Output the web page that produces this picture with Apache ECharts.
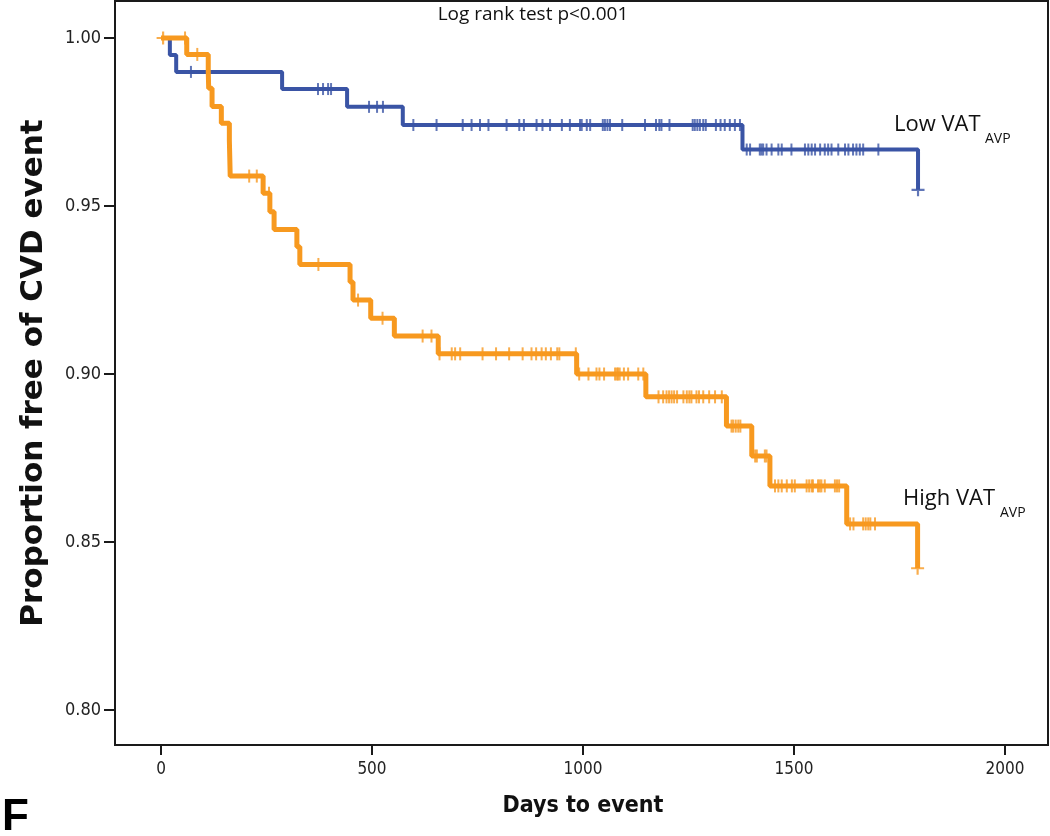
<!DOCTYPE html>
<html>
<head>
<meta charset="utf-8">
<script src="https://cdn.jsdelivr.net/npm/echarts@6/dist/echarts.min.js"></script>
<style>
  html, body { margin: 0; padding: 0; background: #ffffff; }
  #chart { width: 1050px; height: 836px; }
</style>
</head>
<body>
<div id="chart"></div>
<script>
// ---- Data ----
const xTickValues = [0, 500, 1000, 1500, 2000];
const yTickValues = [0.80, 0.85, 0.90, 0.95, 1.00];

// Low VAT_AVP: step changes (day, survival)
const lowDays = [0, 21, 36, 287, 441, 573, 1378, 1794];
const lowSurv = [1.0, 0.9949, 0.9899, 0.9848, 0.9795, 0.9741, 0.9668, 0.9548];
// Low VAT_AVP censored observations (days)
const lowCensorDays = [71, 372, 384, 396, 403, 493, 512, 526,
  598, 653, 715, 736, 756, 776, 819, 849, 860, 890, 904, 922, 950, 969, 993, 997,
  1009, 1017, 1047, 1052, 1058, 1064, 1093, 1147, 1173, 1181, 1186, 1205, 1260,
  1265, 1271, 1277, 1285, 1291, 1315, 1326, 1336, 1348, 1360, 1372,
  1388, 1396, 1419, 1423, 1427, 1435, 1447, 1463, 1471, 1494, 1526, 1534, 1542,
  1550, 1562, 1573, 1581, 1589, 1605, 1621, 1629, 1640, 1648, 1656, 1664, 1700];

// High VAT_AVP: step changes (day, survival)
const highDays = [0, 61, 112, 113, 121, 143, 162, 163, 164, 242, 258, 268, 322, 329,
  448, 455, 497, 553, 657, 985, 1149, 1340, 1400, 1443, 1625, 1793];
const highSurv = [1.0, 0.9951, 0.9900, 0.9850, 0.9796, 0.9746, 0.9695, 0.9643, 0.9589,
  0.9538, 0.9483, 0.9430, 0.9379, 0.9326, 0.9274, 0.9220, 0.9166, 0.9113, 0.9060,
  0.9000, 0.8932, 0.8845, 0.8756, 0.8667, 0.8554, 0.8422];
// High VAT_AVP censored observations (days)
const highCensorDays = [57, 86, 209, 227, 256, 373, 467, 525, 620, 641,
  660, 689, 697, 709, 762, 794, 825, 857, 878, 889, 902, 912, 924, 939, 944, 983,
  991, 1013, 1032, 1039, 1050, 1076, 1080, 1083, 1087, 1097, 1107, 1131, 1143,
  1179, 1190, 1198, 1204, 1210, 1216, 1223, 1238, 1246, 1252, 1257, 1269, 1275,
  1285, 1299, 1313, 1329, 1352, 1356, 1362, 1368, 1373, 1408, 1412, 1431, 1435,
  1455, 1463, 1471, 1483, 1495, 1502, 1530, 1536, 1542, 1545, 1557, 1561, 1565,
  1573, 1597, 1602, 1607, 1633, 1641, 1664, 1670, 1676, 1681, 1692];
// "+" markers (start / end of follow-up)
const lowPlusDays = [1794];
const highPlusDays = [5, 1793];

const blue = '#3a54a5';
const orange = '#f7991f';

// step-function lookup for placing censor marks on their curve
function levelAt(days, surv, d) {
  let v = surv[0];
  for (let i = 0; i < days.length; i++) { if (days[i] <= d) v = surv[i]; }
  return v;
}
const pairs = (a, b) => a.map((d, i) => [d, b[i]]);
const marks = (cd, days, surv) => cd.map(d => [d, levelAt(days, surv, d)]);

const plusPath = 'path://M5,0h2v5h5v2h-5v5h-2v-5h-5v-2h5z';

const chart = echarts.init(document.getElementById('chart'), null, { renderer: 'canvas' });
chart.setOption({
  animation: false,
  backgroundColor: '#ffffff',
  grid: {
    left: 115, right: 2, top: 1, bottom: 91,
    show: true, borderColor: '#1a1a1a', borderWidth: 2, backgroundColor: 'transparent'
  },
  xAxis: {
    type: 'value', min: -109, max: 2102,
    splitLine: { show: false },
    axisLine: { show: false, onZero: false },
    axisTick: { show: true, customValues: xTickValues, length: 10, lineStyle: { color: '#1a1a1a', width: 2 } },
    axisLabel: {
      customValues: xTickValues, margin: 16,
      formatter: v => String(v),
      fontFamily: 'DejaVu Sans Condensed', fontSize: 17, color: '#222'
    }
  },
  yAxis: {
    type: 'value', min: 0.7896, max: 1.011,
    splitLine: { show: false },
    axisLine: { show: false, onZero: false },
    axisTick: { show: true, customValues: yTickValues, length: 11, lineStyle: { color: '#1a1a1a', width: 2 } },
    axisLabel: {
      customValues: yTickValues, margin: 14,
      formatter: v => v.toFixed(2),
      fontFamily: 'DejaVu Sans Condensed', fontSize: 18, color: '#222'
    }
  },
  series: [
    {
      name: 'Low', type: 'line', step: 'end', showSymbol: false, z: 2,
      lineStyle: { color: blue, width: 4 },
      data: pairs(lowDays, lowSurv)
    },
    {
      name: 'LowCensor', type: 'scatter', z: 3, symbol: 'rect', symbolSize: [2, 12],
      itemStyle: { color: blue }, data: marks(lowCensorDays, lowDays, lowSurv)
    },
    {
      name: 'LowPlus', type: 'scatter', z: 3, symbol: plusPath, symbolSize: 13,
      itemStyle: { color: blue }, data: marks(lowPlusDays, lowDays, lowSurv)
    },
    {
      name: 'High', type: 'line', step: 'end', showSymbol: false, z: 4,
      lineStyle: { color: orange, width: 5 },
      data: pairs(highDays, highSurv)
    },
    {
      name: 'HighCensor', type: 'scatter', z: 5, symbol: 'rect', symbolSize: [2, 13],
      itemStyle: { color: orange }, data: marks(highCensorDays, highDays, highSurv)
    },
    {
      name: 'HighPlus', type: 'scatter', z: 5, symbol: plusPath, symbolSize: 13,
      itemStyle: { color: orange }, data: marks(highPlusDays, highDays, highSurv)
    }
  ],
  graphic: [
    { type: 'text', x: 533, y: 15,
      style: { text: 'Log rank test p<0.001', fontFamily: 'Open Sans', fontSize: 19, fill: '#111', align: 'center', verticalAlign: 'middle' } },
    { type: 'text', x: 34, y: 373, rotation: Math.PI / 2,
      style: { text: 'Proportion free of CVD event', fontFamily: 'DejaVu Sans', fontWeight: 'bold', fontSize: 31, fill: '#111', align: 'center', verticalAlign: 'middle' } },
    { type: 'text', x: 583, y: 806,
      style: { text: 'Days to event', fontFamily: 'DejaVu Sans Condensed', fontWeight: 'bold', fontSize: 23, fill: '#111', align: 'center', verticalAlign: 'middle' } },
    { type: 'text', x: 2, y: 818,
      style: { text: 'F', fontFamily: 'Liberation Sans', fontWeight: 'bold', fontSize: 44, fill: '#000', align: 'left', verticalAlign: 'middle' } },
    { type: 'text', x: 894, y: 125,
      style: { text: 'Low VAT', fontFamily: 'Open Sans', fontSize: 22, fill: '#111', align: 'left', verticalAlign: 'middle' } },
    { type: 'text', x: 985, y: 139,
      style: { text: 'AVP', fontFamily: 'Open Sans', fontSize: 14, fill: '#111', align: 'left', verticalAlign: 'middle' } },
    { type: 'text', x: 903, y: 499,
      style: { text: 'High VAT', fontFamily: 'Open Sans', fontSize: 22, fill: '#111', align: 'left', verticalAlign: 'middle' } },
    { type: 'text', x: 1000, y: 513,
      style: { text: 'AVP', fontFamily: 'Open Sans', fontSize: 14, fill: '#111', align: 'left', verticalAlign: 'middle' } }
  ]
});
</script>
</body>
</html>
